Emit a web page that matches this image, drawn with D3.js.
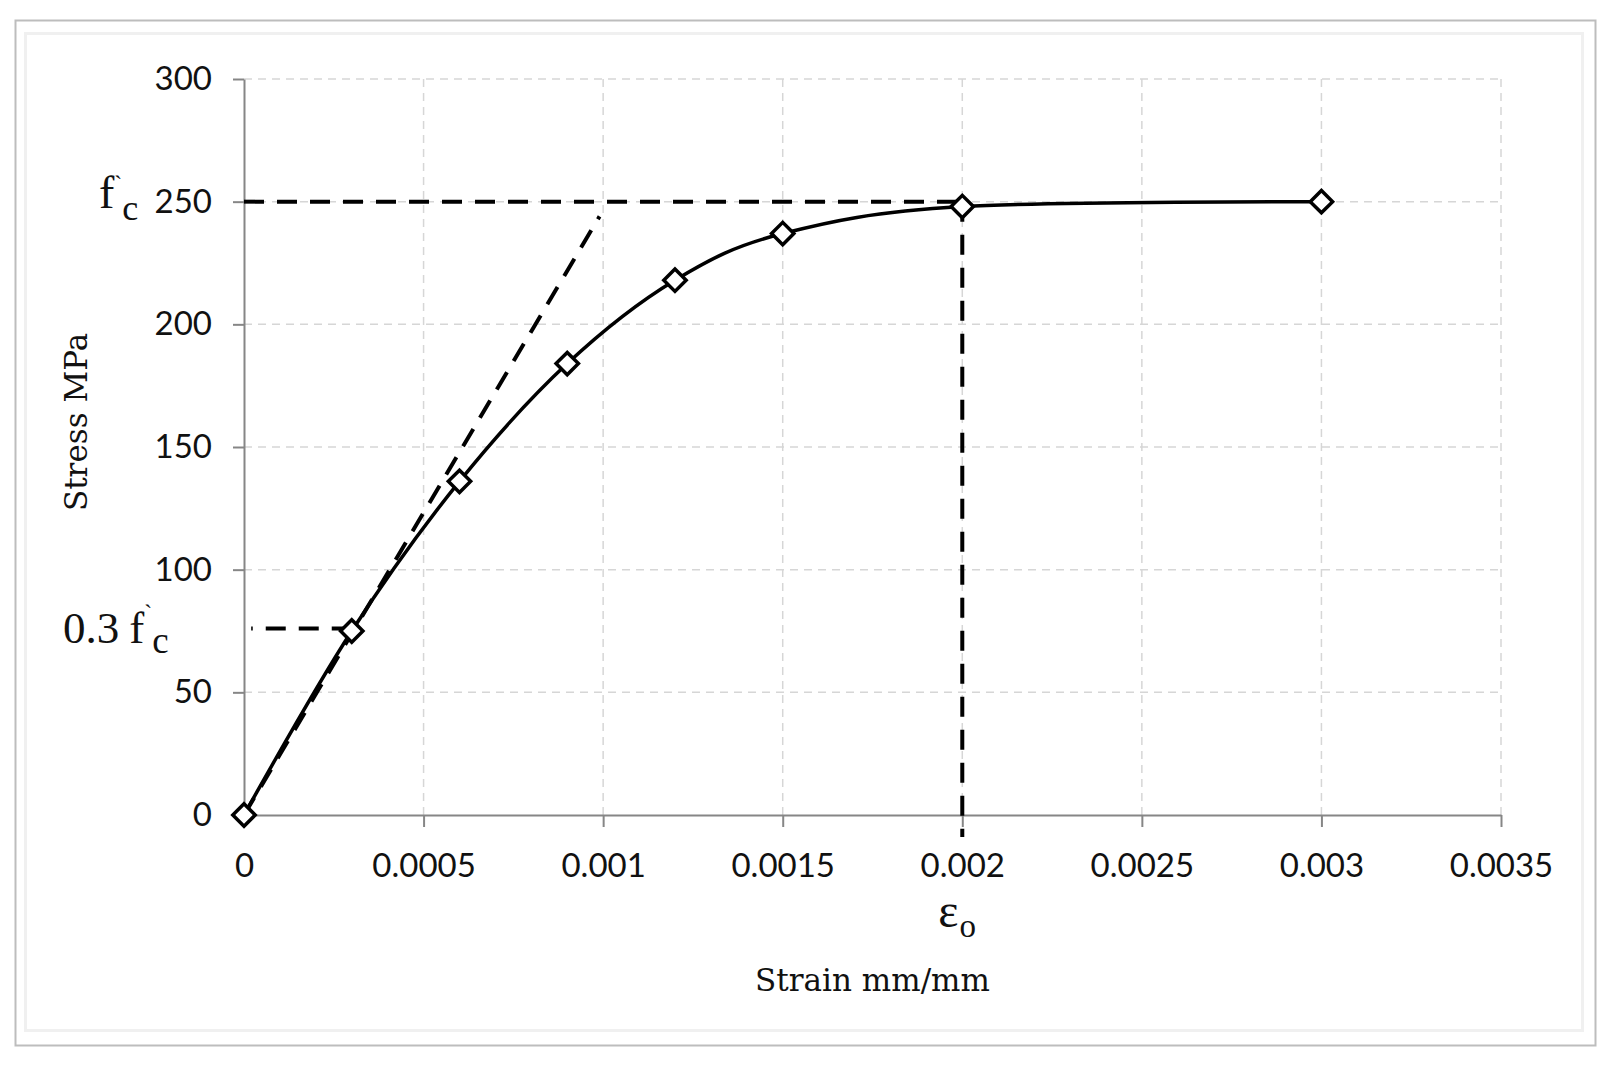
<!DOCTYPE html>
<html>
<head>
<meta charset="utf-8">
<script src="https://cdn.jsdelivr.net/npm/d3@7"></script>
<style>
  html, body { margin: 0; padding: 0; background: #ffffff; }
  svg { display: block; }
</style>
</head>
<body>
<svg id="chart" width="1620" height="1065"></svg>
<script>
// ---------------- DATA ----------------
const strain = [0, 0.0003, 0.0006, 0.0009, 0.0012, 0.0015, 0.002, 0.003];
const stress = [0, 75, 136, 184, 218, 237, 248, 250];

const xTicks = [0, 0.0005, 0.001, 0.0015, 0.002, 0.0025, 0.003, 0.0035];
const xTickLabels = ["0", "0.0005", "0.001", "0.0015", "0.002", "0.0025", "0.003", "0.0035"];
const yTicks = [0, 50, 100, 150, 200, 250, 300];
const yTickLabels = ["0", "50", "100", "150", "200", "250", "300"];

const fcValue = 250;        // f'c
const fc03Value = 76;       // 0.3 f'c marker level
const eps0Value = 0.002;    // strain at peak

// annotation dashed lines (data units)
const tangentLine = [[0, 0], [0.00099, 244]];
const fcLine = [[0, 250], [0.002, 250]];
const eps0Line = [[0.002, 250], [0.002, -9]];
const fc03Line = [[0.0003, 76], [0.00002, 76]];

const xTitle = "Strain mm/mm";
const yTitle = "Stress MPa";

// ---------------- LAYOUT ----------------
const svg = d3.select("#chart");
const W = 1620, H = 1065;
const plot = { left: 244, right: 1501, top: 79, bottom: 815 };

const x = d3.scaleLinear().domain([0, 0.0035]).range([plot.left, plot.right]);
const y = d3.scaleLinear().domain([0, 300]).range([plot.bottom, plot.top]);

// background & frames
svg.append("rect").attr("width", W).attr("height", H).attr("fill", "#ffffff");
svg.append("rect").attr("x", 15.5).attr("y", 20.5).attr("width", 1580).attr("height", 1025)
  .attr("fill", "none").attr("stroke", "#bdbdbd").attr("stroke-width", 2);
svg.append("rect").attr("x", 25.5).attr("y", 33.5).attr("width", 1557).attr("height", 997)
  .attr("fill", "none").attr("stroke", "#f0f0f0").attr("stroke-width", 3);

// grid lines
const grid = svg.append("g").attr("stroke", "#d6d6d6").attr("stroke-width", 1.5)
  .attr("stroke-dasharray", "8,6").attr("fill", "none");
grid.selectAll("line.h").data(yTicks.filter(d => d > 0)).join("line")
  .attr("x1", x(0)).attr("x2", x(0.0035))
  .attr("y1", d => y(d)).attr("y2", d => y(d));
grid.selectAll("line.v").data(xTicks.filter(d => d > 0)).join("line")
  .attr("x1", d => x(d)).attr("x2", d => x(d))
  .attr("y1", y(0)).attr("y2", y(300));

// axes
const axisColor = "#868686";
const tickFont = "Lato, 'Open Sans', sans-serif";

const xAxis = d3.axisBottom(x).tickValues(xTicks)
  .tickFormat((d, i) => xTickLabels[i]).tickSize(12).tickSizeOuter(0).tickPadding(27);
const gx = svg.append("g").attr("transform", `translate(0,${plot.bottom})`).call(xAxis);

const yAxis = d3.axisLeft(y).tickValues(yTicks)
  .tickFormat((d, i) => yTickLabels[i]).tickSize(11).tickSizeOuter(0).tickPadding(21);
const gy = svg.append("g").attr("transform", `translate(${plot.left},0)`).call(yAxis);

[gx, gy].forEach(g => {
  g.select(".domain").attr("stroke", axisColor).attr("stroke-width", 2);
  g.selectAll(".tick line").attr("stroke", axisColor).attr("stroke-width", 2);
  g.selectAll(".tick text").attr("fill", "#111").attr("font-family", tickFont)
    .attr("font-size", 33);
});

// annotation dashed lines
const lineGen = d3.line().x(d => x(d[0])).y(d => y(d[1]));
const dashStyle = sel => sel.attr("fill", "none").attr("stroke", "#000")
  .attr("stroke-width", 4).attr("stroke-dasharray", "20,13");
svg.append("path").datum(fcLine).attr("d", lineGen).call(dashStyle);
svg.append("path").datum(tangentLine).attr("d", lineGen).call(dashStyle);
svg.append("path").datum(eps0Line).attr("d", lineGen).call(dashStyle);
svg.append("path").datum(fc03Line).attr("d", lineGen).call(dashStyle);

// main curve
const pts = strain.map((s, i) => [s, stress[i]]);
const curve = d3.line().x(d => x(d[0])).y(d => y(d[1])).curve(d3.curveCardinal.tension(0));
svg.append("path").datum(pts).attr("d", curve)
  .attr("fill", "none").attr("stroke", "#000").attr("stroke-width", 3.5);

// markers (diamonds)
const sq = d3.symbol().type(d3.symbolSquare).size(250);
svg.selectAll("path.mk").data(pts).join("path")
  .attr("class", "mk")
  .attr("d", sq)
  .attr("transform", d => `translate(${x(d[0])},${y(d[1])}) rotate(45)`)
  .attr("fill", "#fff").attr("stroke", "#000").attr("stroke-width", 3.5);

// annotation labels
const serif = "'Liberation Serif', 'Times New Roman', serif";
// f'c at 250
const fcT = svg.append("text").attr("x", 99).attr("y", y(fcValue) + 6)
  .attr("font-family", serif).attr("font-size", 46).attr("fill", "#111");
fcT.append("tspan").text("f");
fcT.append("tspan").attr("font-size", 24).attr("dy", -16).text("`");
fcT.append("tspan").attr("font-size", 36).attr("dy", 28).text("c");

// 0.3 f'c
const fc3T = svg.append("text").attr("x", 63).attr("y", y(fc03Value) + 14)
  .attr("font-family", serif).attr("font-size", 45).attr("fill", "#111");
fc3T.append("tspan").text("0.3");
fc3T.append("tspan").attr("dx", 10).text("f");
fc3T.append("tspan").attr("font-size", 24).attr("dy", -22).text("`");
fc3T.append("tspan").attr("font-size", 37).attr("dy", 32).text("c");

// epsilon_0
const epsT = svg.append("text").attr("x", x(eps0Value) - 24).attr("y", 927)
  .attr("font-family", serif).attr("font-size", 48).attr("fill", "#111");
epsT.append("tspan").text("ε");
epsT.append("tspan").attr("font-size", 33).attr("dx", 1).attr("dy", 10).text("o");

// axis titles
const titleFont = "'DejaVu Serif', serif";
svg.append("text").attr("x", (plot.left + plot.right) / 2).attr("y", 991)
  .attr("text-anchor", "middle").attr("font-family", titleFont).attr("font-size", 31)
  .attr("fill", "#111").text(xTitle);
svg.append("text").attr("transform", `translate(87,422) rotate(-90)`)
  .attr("text-anchor", "middle").attr("font-family", titleFont).attr("font-size", 31)
  .attr("fill", "#111").text(yTitle);
</script>
</body>
</html>
